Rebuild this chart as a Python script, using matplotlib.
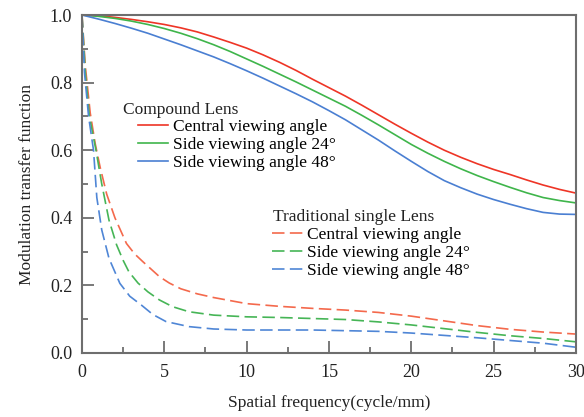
import numpy as np
import matplotlib
matplotlib.use("Agg")
import matplotlib.pyplot as plt
from matplotlib.ticker import MultipleLocator, FormatStrFormatter

plt.rcParams['font.family'] = ['Liberation Serif', 'DejaVu Serif']

# compound lens MTF (solid), sampled every 1 cycle/mm
freq_c = list(range(0, 31))
comp_center = [1.0, 0.998, 0.993, 0.987, 0.98, 0.972, 0.962, 0.95, 0.935, 0.919, 0.902, 0.882, 0.86, 0.836, 0.81,
               0.785, 0.76, 0.733, 0.705, 0.677, 0.65, 0.624, 0.60, 0.579, 0.56, 0.543, 0.528, 0.512, 0.497, 0.484, 0.473]
comp_side24 = [1.0, 0.996, 0.99, 0.982, 0.972, 0.96, 0.946, 0.93, 0.912, 0.892, 0.87, 0.848, 0.825, 0.802, 0.778,
               0.754, 0.73, 0.703, 0.675, 0.646, 0.617, 0.591, 0.567, 0.545, 0.525, 0.507, 0.49, 0.474, 0.46, 0.451, 0.444]
comp_side48 = [1.0, 0.988, 0.975, 0.961, 0.946, 0.929, 0.912, 0.894, 0.876, 0.856, 0.835, 0.813, 0.79, 0.767, 0.743,
               0.717, 0.69, 0.66, 0.63, 0.598, 0.567, 0.537, 0.51, 0.489, 0.47, 0.454, 0.44, 0.427, 0.416, 0.411, 0.41]

# traditional single lens MTF (dashed)
freq_t_center = [0, 0.2, 0.5, 0.8, 1.1, 1.5, 2.0, 2.7, 3.2, 3.7, 4.7, 5.3, 6.0, 7.0, 8, 10, 12, 14, 16, 18, 20, 22,
                 24, 26, 28, 30]
trad_center = [1.0, 0.85, 0.71, 0.62, 0.55, 0.47, 0.40, 0.324, 0.293, 0.27, 0.226, 0.207, 0.19, 0.175, 0.164, 0.146,
               0.138, 0.132, 0.127, 0.12, 0.109, 0.095, 0.081, 0.07, 0.062, 0.056]
freq_t_side24 = [0, 0.2, 0.45, 0.85, 1.2, 1.64, 2.1, 2.5, 2.85, 3.4, 4.0, 4.7, 5.5, 6.5, 8, 10, 12, 14, 16, 18, 20,
                 22, 24, 26, 28, 30]
trad_side24 = [1.0, 0.83, 0.70, 0.60, 0.50, 0.393, 0.32, 0.274, 0.24, 0.207, 0.181, 0.157, 0.137, 0.122, 0.112, 0.107,
               0.105, 0.102, 0.099, 0.092, 0.083, 0.072, 0.061, 0.051, 0.043, 0.033]
freq_t_side48 = [0, 0.15, 0.4, 0.7, 0.9, 1.2, 1.64, 2.3, 2.9, 3.6, 4.3, 5.1, 6.5, 8, 10, 12, 14, 16, 18, 20, 22, 24,
                 26, 28, 30]
trad_side48 = [1.0, 0.83, 0.70, 0.60, 0.46, 0.364, 0.28, 0.206, 0.168, 0.142, 0.114, 0.093, 0.078, 0.071, 0.068,
               0.068, 0.068, 0.066, 0.064, 0.059, 0.052, 0.045, 0.037, 0.029, 0.017]

labels = ["Central viewing angle", "Side viewing angle 24°", "Side viewing angle 48°"]
solid_colors = ['#ee3526', '#3fb54b', '#4a7fd2']
dash_colors = ['#f4694c', '#46b556', '#4f86d6']

fig = plt.figure(figsize=(5.84, 4.17), dpi=100)
ax = fig.add_axes([0.1404, 0.1535, 0.8459, 0.8105])

solid = []
for y, c, lab in zip([comp_center, comp_side24, comp_side48], solid_colors, labels):
    ln, = ax.plot(freq_c, y, color=c, lw=1.2, label=lab)
    solid.append(ln)

dashed = []
for x, y, c, lab in zip([freq_t_center, freq_t_side24, freq_t_side48],
                        [trad_center, trad_side24, trad_side48], dash_colors, labels):
    ln, = ax.plot(x, y, color=c, lw=1.2, dashes=(7.5, 3.2), label=lab)
    dashed.append(ln)

ax.set_xlim(0, 30)
ax.set_ylim(0, 1.0)
ax.xaxis.set_major_locator(MultipleLocator(5))
ax.xaxis.set_minor_locator(MultipleLocator(2.5))
ax.yaxis.set_major_locator(MultipleLocator(0.2))
ax.yaxis.set_minor_locator(MultipleLocator(0.1))
ax.yaxis.set_major_formatter(FormatStrFormatter('%.1f'))
ax.tick_params(which='both', direction='in', color='#6e6e6e', width=1.3, labelsize=13, colors='#222222')
ax.tick_params(which='major', length=8.5)
ax.tick_params(which='minor', length=4.5)
ax.tick_params(axis='x', pad=8)
ax.tick_params(axis='y', pad=7)
for s in ax.spines.values():
    s.set_color('#6e6e6e')
    s.set_linewidth(1.5)

ax.set_xlabel("Spatial frequency(cycle/mm)", fontsize=12.5, labelpad=10, color='#222222')
ax.set_ylabel("Modulation transfer function", fontsize=12.5, labelpad=11, color='#222222')

# legend groups with their own titles
ax.text(0.083, 0.719, "Compound Lens", transform=ax.transAxes, fontsize=12.5, va='center', color='#222222')
leg1 = ax.legend(handles=solid, loc='upper left', bbox_to_anchor=(0.113, 0.692), frameon=False,
                 fontsize=12.5, handlelength=1.75, handletextpad=0.25, labelspacing=0.11,
                 borderpad=0, borderaxespad=0)
ax.add_artist(leg1)

ax.text(0.387, 0.402, "Traditional single Lens", transform=ax.transAxes, fontsize=12.5, va='center', color='#222222')
ax.legend(handles=dashed, loc='upper left', bbox_to_anchor=(0.385, 0.373), frameon=False,
          fontsize=12.5, handlelength=1.8, handletextpad=0.2, labelspacing=0.11,
          borderpad=0, borderaxespad=0)

fig.savefig("out.png", dpi=100)
